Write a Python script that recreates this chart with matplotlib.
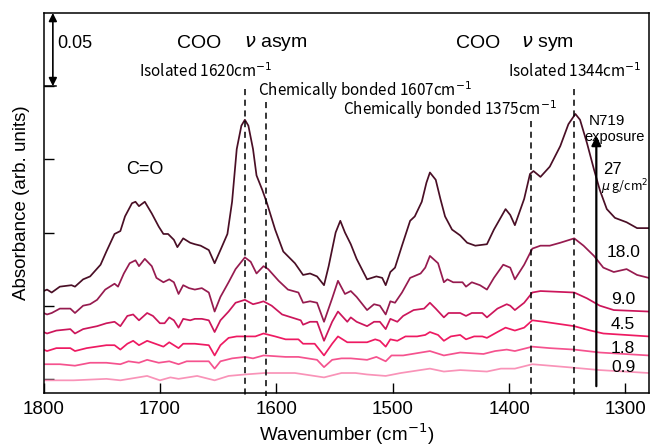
import matplotlib
matplotlib.use("Agg")
import matplotlib.pyplot as plt

# spectra (wavenumber cm-1, absorbance incl. offset)
wn_27 = [1800, 1797, 1793, 1786, 1776, 1773, 1766, 1760, 1751, 1746, 1739, 1734, 1730, 1724, 1721, 1718,
         1713, 1707, 1701, 1697, 1693, 1688, 1685, 1680, 1674, 1670, 1665, 1658, 1653, 1648, 1642, 1638,
         1634, 1630, 1627, 1624, 1620, 1617, 1612, 1608, 1601, 1594, 1584, 1577, 1571, 1565, 1559, 1555,
         1549, 1545, 1541, 1536, 1531, 1522, 1514, 1509, 1506, 1502, 1498, 1492, 1485, 1481, 1475, 1471,
         1468, 1463, 1459, 1455, 1449, 1442, 1436, 1429, 1419, 1413, 1403, 1399, 1395, 1387, 1382, 1379,
         1373, 1365, 1356, 1349, 1343, 1339, 1333, 1327, 1322, 1316, 1309, 1299, 1290, 1280]
ab_27 = [0.060, 0.061, 0.059, 0.063, 0.064, 0.063, 0.068, 0.070, 0.078, 0.087, 0.099, 0.101, 0.111, 0.120,
         0.121, 0.118, 0.121, 0.113, 0.104, 0.099, 0.099, 0.095, 0.090, 0.096, 0.093, 0.092, 0.091, 0.088,
         0.079, 0.088, 0.099, 0.121, 0.157, 0.173, 0.177, 0.173, 0.157, 0.139, 0.129, 0.120, 0.102, 0.087,
         0.079, 0.071, 0.072, 0.070, 0.064, 0.077, 0.100, 0.108, 0.100, 0.092, 0.082, 0.068, 0.070, 0.069,
         0.064, 0.073, 0.076, 0.091, 0.108, 0.111, 0.121, 0.134, 0.141, 0.136, 0.123, 0.111, 0.102, 0.098,
         0.093, 0.091, 0.092, 0.102, 0.116, 0.112, 0.105, 0.123, 0.140, 0.142, 0.138, 0.145, 0.159, 0.174,
         0.181, 0.177, 0.161, 0.143, 0.129, 0.116, 0.110, 0.107, 0.103, 0.103]

wn_18 = [1800, 1797, 1793, 1786, 1777, 1773, 1766, 1760, 1754, 1747, 1739, 1736, 1731, 1726, 1721, 1718,
         1713, 1707, 1703, 1697, 1692, 1688, 1684, 1680, 1675, 1670, 1664, 1658, 1653, 1648, 1641, 1635,
         1627, 1622, 1617, 1611, 1607, 1598, 1590, 1581, 1577, 1571, 1565, 1559, 1552, 1547, 1541, 1536,
         1531, 1522, 1516, 1511, 1506, 1502, 1498, 1492, 1485, 1476, 1472, 1468, 1461, 1456, 1453, 1448,
         1440, 1437, 1432, 1425, 1419, 1413, 1405, 1399, 1395, 1387, 1380, 1373, 1365, 1356, 1344, 1336,
         1327, 1319, 1310, 1299, 1290, 1280]
ab_18 = [0.045, 0.044, 0.045, 0.048, 0.048, 0.045, 0.050, 0.051, 0.054, 0.061, 0.065, 0.063, 0.072, 0.079,
         0.081, 0.077, 0.082, 0.077, 0.069, 0.066, 0.068, 0.066, 0.058, 0.064, 0.062, 0.061, 0.062, 0.059,
         0.046, 0.056, 0.066, 0.075, 0.083, 0.080, 0.072, 0.077, 0.075, 0.067, 0.061, 0.059, 0.052, 0.053,
         0.052, 0.039, 0.055, 0.067, 0.058, 0.060, 0.056, 0.047, 0.051, 0.050, 0.044, 0.053, 0.052, 0.059,
         0.069, 0.072, 0.076, 0.084, 0.079, 0.066, 0.068, 0.066, 0.066, 0.063, 0.066, 0.064, 0.061, 0.069,
         0.078, 0.076, 0.068, 0.078, 0.089, 0.091, 0.091, 0.093, 0.096, 0.091, 0.084, 0.076, 0.073, 0.075,
         0.071, 0.069]

wn_9 = [1800, 1797, 1789, 1777, 1773, 1766, 1754, 1746, 1739, 1734, 1728, 1723, 1718, 1711, 1706, 1700,
        1696, 1692, 1688, 1684, 1680, 1674, 1670, 1664, 1658, 1653, 1648, 1641, 1635, 1627, 1620, 1615,
        1611, 1604, 1595, 1587, 1579, 1577, 1571, 1565, 1559, 1552, 1547, 1539, 1536, 1531, 1522, 1516,
        1511, 1506, 1502, 1496, 1491, 1482, 1473, 1468, 1463, 1456, 1452, 1442, 1437, 1432, 1423, 1419,
        1410, 1402, 1399, 1395, 1387, 1380, 1373, 1344, 1333, 1322, 1310, 1280]
ab_9 = [0.032, 0.031, 0.033, 0.034, 0.031, 0.034, 0.036, 0.038, 0.039, 0.036, 0.043, 0.044, 0.040, 0.045,
        0.043, 0.038, 0.038, 0.042, 0.040, 0.035, 0.041, 0.040, 0.041, 0.041, 0.040, 0.032, 0.040, 0.046,
        0.052, 0.054, 0.051, 0.052, 0.053, 0.050, 0.044, 0.042, 0.040, 0.037, 0.039, 0.039, 0.026, 0.039,
        0.046, 0.039, 0.042, 0.039, 0.036, 0.039, 0.039, 0.034, 0.041, 0.039, 0.043, 0.047, 0.048, 0.052,
        0.048, 0.042, 0.045, 0.045, 0.043, 0.045, 0.045, 0.042, 0.048, 0.051, 0.050, 0.047, 0.052, 0.059,
        0.060, 0.059, 0.055, 0.050, 0.047, 0.046]

wn_45 = [1800, 1797, 1789, 1777, 1773, 1763, 1746, 1739, 1734, 1728, 1723, 1718, 1711, 1704, 1697, 1692,
         1684, 1680, 1670, 1658, 1653, 1648, 1641, 1634, 1624, 1618, 1611, 1601, 1592, 1581, 1577, 1567,
         1559, 1552, 1547, 1539, 1533, 1522, 1515, 1511, 1506, 1502, 1496, 1489, 1479, 1472, 1468, 1461,
         1456, 1450, 1442, 1437, 1430, 1423, 1419, 1410, 1403, 1399, 1395, 1387, 1380, 1370, 1344, 1330,
         1319, 1280]
ab_45 = [0.020, 0.019, 0.021, 0.021, 0.019, 0.021, 0.023, 0.023, 0.020, 0.024, 0.026, 0.023, 0.026, 0.024,
         0.022, 0.025, 0.021, 0.024, 0.024, 0.023, 0.016, 0.023, 0.028, 0.029, 0.029, 0.029, 0.031, 0.029,
         0.027, 0.027, 0.024, 0.024, 0.016, 0.024, 0.029, 0.025, 0.025, 0.025, 0.027, 0.026, 0.022, 0.027,
         0.026, 0.029, 0.029, 0.030, 0.032, 0.030, 0.026, 0.029, 0.030, 0.027, 0.029, 0.029, 0.028, 0.032,
         0.035, 0.034, 0.033, 0.035, 0.040, 0.039, 0.036, 0.033, 0.031, 0.029]

wn_18s = [1800, 1786, 1773, 1760, 1746, 1734, 1727, 1718, 1711, 1701, 1692, 1684, 1677, 1667, 1658, 1653,
          1648, 1638, 1627, 1620, 1611, 1592, 1581, 1565, 1559, 1552, 1544, 1536, 1522, 1514, 1506, 1501,
          1491, 1468, 1456, 1442, 1422, 1412, 1402, 1395, 1380, 1365, 1344, 1322, 1280]
ab_18s = [0.010, 0.010, 0.009, 0.011, 0.011, 0.010, 0.012, 0.011, 0.013, 0.011, 0.012, 0.010, 0.012, 0.012,
          0.012, 0.007, 0.012, 0.014, 0.015, 0.014, 0.016, 0.015, 0.015, 0.013, 0.008, 0.013, 0.014, 0.014,
          0.013, 0.015, 0.012, 0.016, 0.016, 0.019, 0.016, 0.018, 0.017, 0.019, 0.020, 0.019, 0.022, 0.021,
          0.020, 0.018, 0.016]

wn_09 = [1800, 1774, 1746, 1734, 1711, 1700, 1691, 1684, 1668, 1653, 1641, 1627, 1610, 1584, 1559, 1544,
         1532, 1522, 1506, 1493, 1468, 1456, 1442, 1419, 1407, 1395, 1380, 1350, 1322, 1280]
ab_09 = [-0.001, -0.001, 0.000, -0.001, 0.002, -0.001, 0.001, 0.000, 0.002, -0.001, 0.002, 0.003, 0.004,
         0.004, 0.001, 0.004, 0.004, 0.003, 0.002, 0.004, 0.007, 0.005, 0.006, 0.005, 0.007, 0.007, 0.010,
         0.008, 0.006, 0.004]

doses = ["27", "18.0", "9.0", "4.5", "1.8", "0.9"]
colors = ["#4a0f26", "#961b4f", "#cc165b", "#ee1a62", "#f5528e", "#f993b8"]
series = [(wn_27, ab_27), (wn_18, ab_18), (wn_9, ab_9), (wn_45, ab_45), (wn_18s, ab_18s), (wn_09, ab_09)]

# peak positions marked with dashed lines, and where each line starts
peak_wn = [1627, 1609, 1381, 1344]
peak_top = [0.198, 0.189, 0.176, 0.198]

plt.rcParams["font.family"] = ["Liberation Sans", "DejaVu Sans"]
jp = ["Noto Sans CJK JP", "DejaVu Sans"]

fig = plt.figure(figsize=(6.5, 4.47), dpi=100)
ax = fig.add_axes([0.067, 0.121, 0.931, 0.850])

for (x, y), c in zip(series, colors):
    ax.plot(x, y, color=c, lw=1.25, solid_joinstyle="round")

for w, t in zip(peak_wn, peak_top):
    ax.plot([w, w], [t, -0.012], color="black", lw=1.1, ls=(0, (4, 3)), clip_on=False)

ax.set_xlim(1800, 1280)
ax.set_ylim(-0.0096, 0.25)
ax.set_xticks([1800, 1700, 1600, 1500, 1400, 1300])
ax.set_yticks([0, 0.05, 0.10, 0.15, 0.20])
ax.set_yticklabels([])
ax.tick_params(axis="x", direction="in", length=7, width=1, labelsize=13.5, pad=6)
ax.tick_params(axis="y", direction="in", length=7, width=1)
for s in ax.spines.values():
    s.set_linewidth(1.1)
ax.set_xlabel("Wavenumber (cm$^{-1}$)", fontsize=13.5, labelpad=2)
ax.set_ylabel("Absorbance (arb. units)", fontsize=13.5, labelpad=6)

# scale bar
ax.annotate("", xy=(1792, 0.25), xytext=(1792, 0.20),
            arrowprops=dict(arrowstyle="<|-|>", color="black", lw=1.2, mutation_scale=12,
                            shrinkA=0, shrinkB=0))
ax.plot([1800, 1789], [0.20, 0.20], color="black", lw=1.1)
ax.text(1788, 0.229, "0.05", fontsize=13, va="center", ha="left")

# band labels
ax.text(1666, 0.229, "COO", fontsize=14, ha="center", va="center")
ax.text(1628, 0.229, r"$\nu$ asym", fontsize=14, ha="left", va="center")
ax.text(1427, 0.229, "COO", fontsize=14, ha="center", va="center")
ax.text(1390, 0.229, r"$\nu$ sym", fontsize=14, ha="left", va="center")
ax.text(1713, 0.143, "C=O", fontsize=13, ha="center", va="center")

ax.text(1661, 0.210, "Isolated 1620cm$^{-1}$", family=jp, fontsize=11, ha="center", va="center")
ax.text(1616, 0.197, "Chemically bonded 1607cm$^{-1}$", family=jp, fontsize=11, ha="left", va="center")
ax.text(1543, 0.184, "Chemically bonded 1375cm$^{-1}$", family=jp, fontsize=11, ha="left", va="center")
ax.text(1401, 0.210, "Isolated 1344cm$^{-1}$", family=jp, fontsize=11, ha="left", va="center")

# exposure arrow and dose labels
ax.annotate("", xy=(1325, 0.166), xytext=(1325, -0.005),
            arrowprops=dict(arrowstyle="-|>", color="black", lw=1.6, mutation_scale=14,
                            shrinkA=0, shrinkB=0))
ax.text(1316, 0.176, "N719", fontsize=11, ha="center", va="center")
ax.text(1309, 0.165, "exposure", fontsize=10.5, ha="center", va="center")
ax.text(1311, 0.143, doses[0], fontsize=12, ha="center", va="center")
ax.text(1321, 0.131, r"$\mu$ g/cm$^2$", family=jp, fontsize=9, ha="left", va="center", clip_on=False)
label_y = [0.086, 0.054, 0.037, 0.021, 0.008]
for d, yy in zip(doses[1:], label_y):
    ax.text(1302, yy, d, fontsize=12.5, ha="center", va="center")

fig.savefig("out.png", dpi=100)
